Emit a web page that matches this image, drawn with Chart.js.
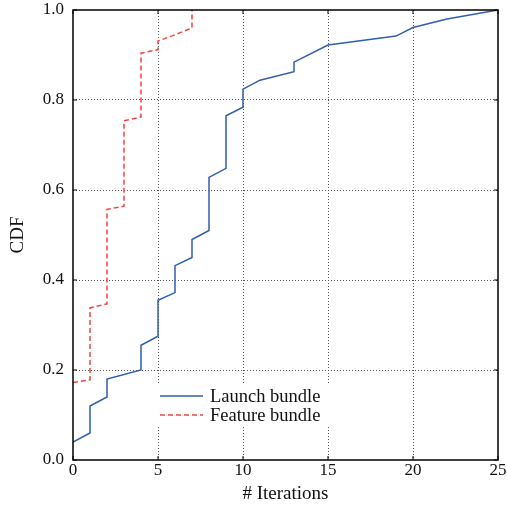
<!DOCTYPE html>
<html>
<head>
<meta charset="utf-8">
<script src="https://cdn.jsdelivr.net/npm/chart.js@4"></script>
<style>
    html, body { margin: 0; padding: 0; background: #fff; }
    #wrap { width: 507px; height: 510px; }
</style>
</head>
<body>
<div id="wrap"><canvas id="cdfChart" width="507" height="510"></canvas></div>
<script>
// Launch bundle CDF points
const launchX = [0, 1, 1, 2, 2, 4, 4, 5, 5, 6, 6, 7, 7, 8, 8, 9, 9, 10, 10, 11, 13, 13, 15, 19, 20, 22, 25];
const launchY = [0.04, 0.06, 0.12, 0.14, 0.18, 0.20, 0.255, 0.275, 0.355, 0.372, 0.432, 0.45, 0.49, 0.51,
    0.628, 0.648, 0.765, 0.784, 0.824, 0.844, 0.863, 0.884, 0.922, 0.942, 0.961, 0.98, 1.0];

// Feature bundle CDF points
const featureX = [0, 1, 1, 2, 2, 3, 3, 4, 4, 5, 5, 6, 7, 7];
const featureY = [0.172, 0.178, 0.338, 0.347, 0.557, 0.564, 0.754, 0.762, 0.904, 0.912, 0.931, 0.945, 0.96, 1.0];

const xTicks = [0, 5, 10, 15, 20, 25];
const yTicks = [0.0, 0.2, 0.4, 0.6, 0.8, 1.0];
const seriesNames = ["Launch bundle", "Feature bundle"];

const FONT = "'Liberation Serif', 'DejaVu Serif', serif";
const BLUE = "#2f5fae";
const RED = "#f24444";

const toPoints = (xs, ys) => xs.map((x, i) => ({ x: x, y: ys[i] }));

// Frame box with inward ticks on all four sides
const framePlugin = {
    id: "frame",
    afterDraw(chart) {
        const { ctx, chartArea: a, scales } = chart;
        ctx.save();
        ctx.strokeStyle = "#000";
        ctx.lineWidth = 1.5;
        ctx.strokeRect(a.left, a.top, a.right - a.left, a.bottom - a.top);
        ctx.lineWidth = 1;
        ctx.beginPath();
        xTicks.forEach(t => {
            const px = scales.x.getPixelForValue(t);
            ctx.moveTo(px, a.bottom); ctx.lineTo(px, a.bottom - 4);
            ctx.moveTo(px, a.top); ctx.lineTo(px, a.top + 4);
        });
        yTicks.forEach(t => {
            const py = scales.y.getPixelForValue(t);
            ctx.moveTo(a.left, py); ctx.lineTo(a.left + 4, py);
            ctx.moveTo(a.right, py); ctx.lineTo(a.right - 4, py);
        });
        ctx.stroke();
        ctx.restore();
    }
};

// Legend drawn inside the plot area, white box without border
const innerLegend = {
    id: "innerLegend",
    afterDatasetsDraw(chart) {
        const ctx = chart.ctx;
        ctx.save();
        ctx.fillStyle = "#fff";
        ctx.fillRect(156, 383, 178, 44);
        ctx.font = "18.5px " + FONT;
        ctx.textBaseline = "middle";
        const rows = [
            { y: 396, color: BLUE, dash: [] },
            { y: 415, color: RED, dash: [5, 3] }
        ];
        rows.forEach((r, i) => {
            ctx.strokeStyle = r.color;
            ctx.lineWidth = 1.5;
            ctx.setLineDash(r.dash);
            ctx.beginPath();
            ctx.moveTo(160, r.y);
            ctx.lineTo(203, r.y);
            ctx.stroke();
            ctx.setLineDash([]);
            ctx.fillStyle = "#111";
            ctx.fillText(seriesNames[i], 210, r.y + 1);
        });
        ctx.restore();
    }
};

new Chart(document.getElementById("cdfChart"), {
    type: "line",
    data: {
        datasets: [
            {
                label: seriesNames[0],
                data: toPoints(launchX, launchY),
                borderColor: BLUE,
                borderWidth: 1.5,
                pointRadius: 0,
                tension: 0,
                fill: false
            },
            {
                label: seriesNames[1],
                data: toPoints(featureX, featureY),
                borderColor: RED,
                borderWidth: 1.5,
                borderDash: [5, 3],
                pointRadius: 0,
                tension: 0,
                fill: false
            }
        ]
    },
    options: {
        responsive: false,
        animation: false,
        layout: { padding: { left: 0, right: 9, top: 10, bottom: 0 } },
        plugins: {
            legend: { display: false },
            tooltip: { enabled: false }
        },
        scales: {
            x: {
                type: "linear",
                min: 0,
                max: 25,
                afterBuildTicks: (s) => { s.ticks = xTicks.map(v => ({ value: v })); },
                afterFit: (s) => { s.height = 50; s.paddingLeft = 0; s.paddingRight = 0; },
                ticks: {
                    color: "#111",
                    font: { family: FONT, size: 17 },
                    padding: 0,
                    maxRotation: 0
                },
                grid: {
                    color: (c) => (c.tick && (c.tick.value === 0 || c.tick.value === 25)) ? "rgba(0,0,0,0)" : "#555",
                    lineWidth: 1,
                    drawTicks: false
                },
                border: { display: false, dash: [1, 2] },
                title: {
                    display: true,
                    text: "# Iterations",
                    color: "#111",
                    font: { family: FONT, size: 19 },
                    padding: { top: 2, bottom: 5 }
                }
            },
            y: {
                min: 0,
                max: 1,
                afterBuildTicks: (s) => { s.ticks = yTicks.map(v => ({ value: v })); },
                afterFit: (s) => { s.width = 73; s.paddingTop = 0; s.paddingBottom = 0; },
                ticks: {
                    color: "#111",
                    font: { family: FONT, size: 17 },
                    padding: 9,
                    callback: (v) => Number(v).toFixed(1)
                },
                grid: {
                    color: (c) => (c.tick && (c.tick.value === 0 || c.tick.value === 1)) ? "rgba(0,0,0,0)" : "#555",
                    lineWidth: 1,
                    drawTicks: false
                },
                border: { display: false, dash: [1, 2] },
                title: {
                    display: true,
                    text: "CDF",
                    color: "#111",
                    font: { family: FONT, size: 19 },
                    padding: { top: 7, bottom: 0 }
                }
            }
        }
    },
    plugins: [framePlugin, innerLegend]
});
</script>
</body>
</html>
